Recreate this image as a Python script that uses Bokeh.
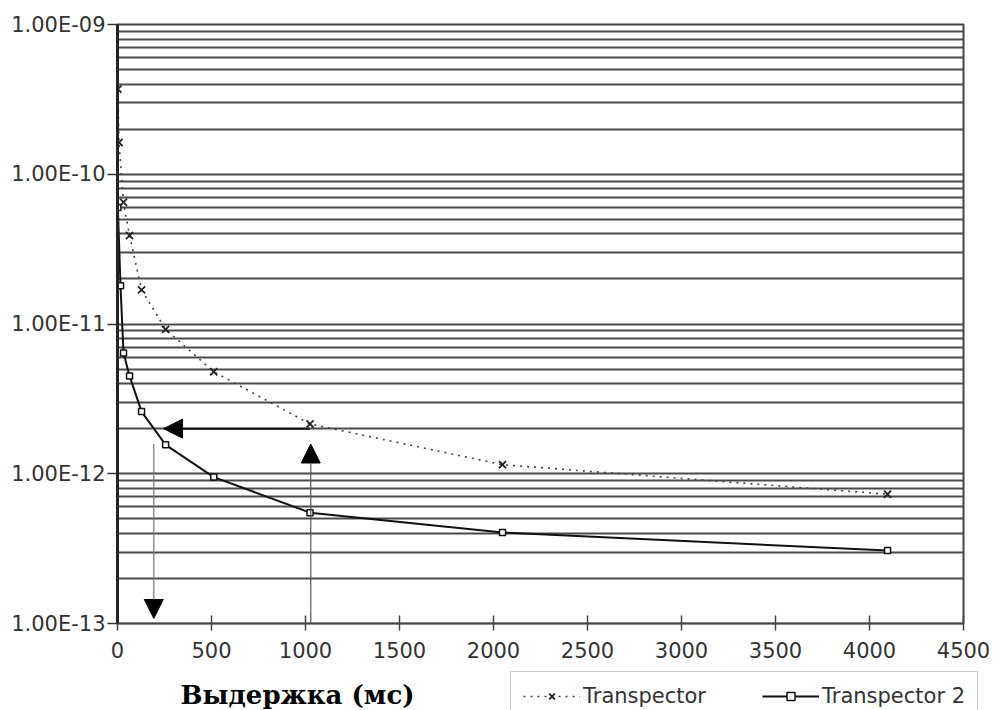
from bokeh.plotting import figure
from bokeh.layouts import column
from bokeh.models import (FixedTicker, CustomJSTickFormatter, Legend, LegendItem,
                          Label, Arrow, NormalHead)
from bokeh.embed import file_html
from bokeh.resources import INLINE

# ---- data ----
t1_x = [2, 8, 32, 64, 128, 256, 512, 1024, 2048, 4096]
t1_y = [3.7e-10, 1.63e-10, 6.5e-11, 3.9e-11, 1.69e-11, 9.2e-12, 4.8e-12, 2.15e-12, 1.15e-12, 7.3e-13]

t2_x = [2, 16, 32, 64, 128, 256, 512, 1024, 2048, 4096]
t2_y = [6.0e-11, 1.8e-11, 6.4e-12, 4.5e-12, 2.6e-12, 1.56e-12, 9.5e-13, 5.5e-13, 4.05e-13, 3.07e-13]

x_ticks = [0, 500, 1000, 1500, 2000, 2500, 3000, 3500, 4000, 4500]
y_decades = [-13, -12, -11, -10, -9]

series_names = ["Transpector", "Transpector 2"]
x_title = "Выдержка (мс)"

# annotation arrows: (x_start, y_start, x_end, y_end)
arrow_left = (1024, 2.0e-12, 245, 2.0e-12)
arrow_up = (1028, 1.0e-13, 1028, 1.58e-12)
arrow_down = (193, 1.58e-12, 193, 1.08e-13)

FONT = "DejaVu Sans"

p = figure(width=999, height=666, x_range=(0, 4500), y_range=(1e-13, 1e-9),
           y_axis_type="log", output_backend="svg", toolbar_location=None,
           min_border_left=117, min_border_right=36, min_border_top=24,
           min_border_bottom=43)
p.frame_align = False

p.outline_line_color = "#444444"
p.outline_line_width = 2
p.background_fill_color = "white"
p.border_fill_color = "white"

# y axis ticks and grid
major = [10.0 ** e for e in y_decades]
minor = [k * 10.0 ** e for e in y_decades[:-1] for k in range(2, 10)]
p.yaxis.ticker = FixedTicker(ticks=major, minor_ticks=minor)
p.yaxis.formatter = CustomJSTickFormatter(code="""
    var s = tick.toExponential(2).toUpperCase();
    return s.replace(/E([+-])(\\d)$/, 'E$10$2');
""")
p.yaxis.axis_line_width = 3
p.yaxis.axis_line_color = "#222222"
p.yaxis.major_tick_in = 0
p.yaxis.major_tick_out = 10
p.yaxis.major_tick_line_color = "#333333"
p.yaxis.major_tick_line_width = 1.5
p.yaxis.minor_tick_line_color = None
p.yaxis.major_label_standoff = 2
p.yaxis.major_label_text_font = FONT
p.yaxis.major_label_text_font_size = "21px"
p.yaxis.major_label_text_color = "#333333"

p.ygrid.grid_line_color = "#4a4a4a"
p.ygrid.grid_line_width = 2
p.ygrid.minor_grid_line_color = "#4a4a4a"
p.ygrid.minor_grid_line_width = 2
p.xgrid.grid_line_color = None

# x axis
p.xaxis.ticker = FixedTicker(ticks=x_ticks)
p.xaxis.axis_line_color = "#444444"
p.xaxis.axis_line_width = 1.5
p.xaxis.major_tick_in = 8
p.xaxis.major_tick_out = 7
p.xaxis.major_tick_line_color = "#444444"
p.xaxis.major_tick_line_width = 1.5
p.xaxis.minor_tick_line_color = None
p.xaxis.major_label_standoff = 11
p.xaxis.major_label_text_font = FONT
p.xaxis.major_label_text_font_size = "21px"
p.xaxis.major_label_text_color = "#333333"

# arrows
for (xs, ys, xe, ye), lw, col in [(arrow_left, 2, "#111111"),
                                   (arrow_up, 1.2, "#555555"),
                                   (arrow_down, 1.2, "#777777")]:
    p.add_layout(Arrow(x_start=xs, y_start=ys, x_end=xe, y_end=ye,
                       line_color=col, line_width=lw,
                       end=NormalHead(size=19, fill_color="black", line_color="black")))

# series styles
s1_line = dict(line_color="#444444", line_width=1.6, line_dash="2 5")
s1_mark = dict(marker="x", size=10, line_color="#222222", line_width=1.8)
s2_line = dict(line_color="#111111", line_width=2)
s2_mark = dict(marker="square", size=6, fill_color="white", line_color="#111111", line_width=1.5)

p.line(t1_x, t1_y, **s1_line)
p.scatter(t1_x, t1_y, **s1_mark)
p.line(t2_x, t2_y, **s2_line)
p.scatter(t2_x, t2_y, **s2_mark)

# ---- bottom strip: axis title + legend (series kept out of this strip's view) ----
q = figure(width=999, height=44, x_range=(0, 999), y_range=(1, 2),
           output_backend="svg", toolbar_location=None,
           min_border_left=0, min_border_right=0, min_border_top=0,
           min_border_bottom=0)
q.frame_align = False
q.axis.visible = False
q.grid.visible = False
q.outline_line_color = None
q.background_fill_color = "white"
q.border_fill_color = "white"

l1 = q.line(t1_x, t1_y, **s1_line)
m1 = q.scatter(t1_x, t1_y, **s1_mark)
l2 = q.line(t2_x, t2_y, **s2_line)
m2 = q.scatter(t2_x, t2_y, **s2_mark)

legend = Legend(items=[LegendItem(label=series_names[0], renderers=[l1, m1]),
                       LegendItem(label=series_names[1], renderers=[l2, m2])],
                orientation="horizontal", location=(510, -11),
                label_text_font=FONT, label_text_font_size="21px",
                label_text_color="#333333", glyph_width=57, glyph_height=20,
                label_standoff=3, spacing=56, padding=12,
                border_line_color="#999999", border_line_width=1.5,
                background_fill_color="white", background_fill_alpha=1)
q.add_layout(legend, "center")

q.add_layout(Label(x=297, y=16, x_units="screen", y_units="screen",
                   text=x_title, text_align="center",
                   text_baseline="alphabetic", text_font="DejaVu Serif",
                   text_font_style="bold", text_font_size="26px",
                   text_color="#000000"))

layout = column(p, q, spacing=0)
open("out.html", "w").write(file_html(layout, INLINE))
